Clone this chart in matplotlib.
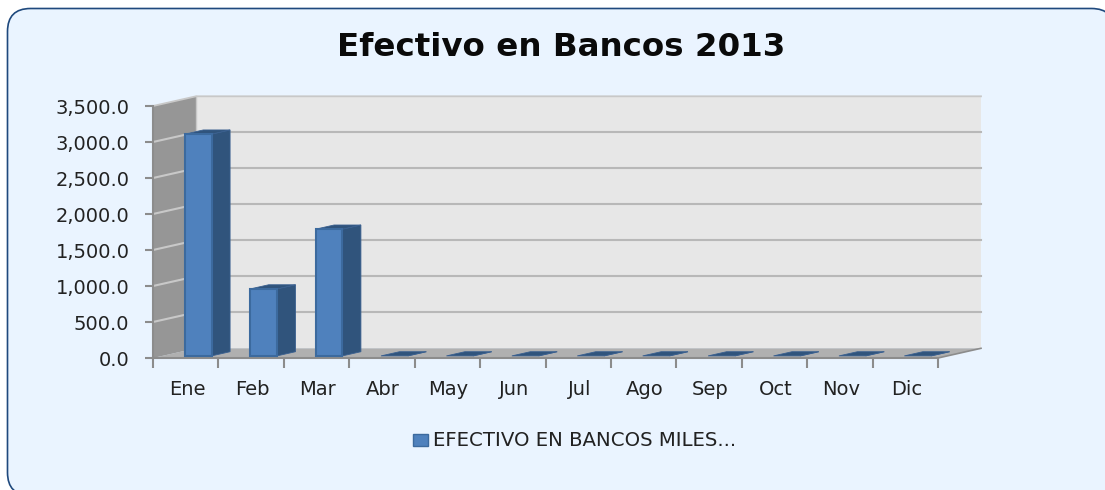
import matplotlib
matplotlib.use("Agg")
import matplotlib.pyplot as plt
from matplotlib.patches import FancyBboxPatch, Polygon, Rectangle

# values
meses = ["Ene", "Feb", "Mar", "Abr", "May", "Jun", "Jul", "Ago", "Sep", "Oct", "Nov", "Dic"]
efectivo = [3080, 930, 1760, 0, 0, 0, 0, 0, 0, 0, 0, 0]
y_ticks = [0, 500, 1000, 1500, 2000, 2500, 3000, 3500]
titulo = "Efectivo en Bancos 2013"
serie = "EFECTIVO EN BANCOS MILES..."

W, H = 1105, 490
fig = plt.figure(figsize=(W / 100, H / 100), dpi=100, facecolor="white")

# rounded frame, in pixels of the figure (right and bottom run off the picture)
bg = fig.add_axes([0, 0, 1, 1], zorder=0)
bg.set_xlim(0, W)
bg.set_ylim(H, 0)
bg.axis("off")
bg.add_patch(FancyBboxPatch((7.5, 8.5), 1107, 487, boxstyle="round,pad=0,rounding_size=23",
                            fc="#EAF4FF", ec="#1F497D", lw=1.2))

# the axes is the front plane of the 3D box
ax = fig.add_axes([153 / W, (H - 358) / H, 785 / W, 252 / H], zorder=1)
ax.set_xlim(0, 12)
ax.set_ylim(0, 3500)
ax.patch.set_alpha(0)
for s in ["top", "right"]:
    ax.spines[s].set_visible(False)
for s in ["left", "bottom"]:
    ax.spines[s].set_color("#8C8C8C")
    ax.spines[s].set_linewidth(1.5)

# depth of the box, in axis units
dx = 43 / (785 / 12)
dy = 9.7 * 3500 / 252


def para(pts, **kw):
    ax.add_patch(Polygon(pts, closed=True, clip_on=False, **kw))


# floor, side wall, back wall
para([(0, 0), (12, 0), (12 + dx, dy), (dx, dy)], fc="#B0B0B0", ec="none", zorder=1)
para([(0, 0), (dx, dy), (dx, 3500 + dy), (0, 3500)], fc="#969696", ec="none", zorder=1)
para([(dx, dy), (12 + dx, dy), (12 + dx, 3500 + dy), (dx, 3500 + dy)], fc="#E7E7E7", ec="none", zorder=1)
ax.plot([0, dx, 12 + dx], [3500, 3500 + dy, 3500 + dy], color="#C8C8C8", lw=1.3, clip_on=False, zorder=2)
ax.plot([dx, dx], [dy, 3500 + dy], color="#C8C8C8", lw=1, clip_on=False, zorder=2)
ax.plot([12, 12 + dx], [0, dy], color="#8C8C8C", lw=1.2, clip_on=False, zorder=2)

for v in y_ticks[1:-1]:
    ax.plot([dx, 12 + dx], [v + dy, v + dy], color="#B8B8B8", lw=1.5, clip_on=False, zorder=2)
    ax.plot([0, dx], [v, v + dy], color="#C8C8C8", lw=1.5, clip_on=False, zorder=2)

# bars sit part of the way into the box
off = 0.29
deep = 0.43
bw = 0.41
for i, v in enumerate(efectivo):
    x0 = i + 0.5 + off * dx - bw / 2
    x1 = x0 + bw
    b = off * dy * 0.75
    ddx = deep * dx
    ddy = deep * dy
    para([(x1, b), (x1 + ddx, b + ddy), (x1 + ddx, b + ddy + v), (x1, b + v)],
         fc="#30547C", ec="#3A6090", lw=0.6, zorder=3)
    para([(x0, b + v), (x1, b + v), (x1 + ddx, b + ddy + v), (x0 + ddx, b + ddy + v)],
         fc="#30547C", ec="#3A6090", lw=0.6, zorder=3)
    if v > 0:
        ax.bar(i + 0.5 + off * dx, v, bw, bottom=b, color="#4F81BD", edgecolor="#3C6A9E",
               linewidth=1.5, zorder=4, clip_on=False)

ax.set_xticks(range(13))
ax.set_xticklabels([])
ax.set_yticks(y_ticks)
ax.set_yticklabels([f"{v:,.1f}" for v in y_ticks], fontsize=14, color="#222222")
ax.tick_params(axis="y", length=6, width=1.5, color="#8C8C8C", pad=11)
ax.tick_params(axis="x", length=7, width=1.5, color="#8C8C8C")
for i, m in enumerate(meses):
    ax.text(i + 0.52, -444, m, ha="center", va="center", fontsize=14, color="#222222")

fig.text(561 / W, 1 - 47 / H, titulo, ha="center", va="center", fontsize=23.4,
         fontweight="bold", color="#0A0A0A")

bg.add_patch(Rectangle((413, 434), 15, 12, fc="#4F81BD", ec="#3C6A9E", lw=1))
bg.text(433, 440, serie, ha="left", va="center", fontsize=14.2, color="#222222")

fig.savefig("out.png", dpi=100)
